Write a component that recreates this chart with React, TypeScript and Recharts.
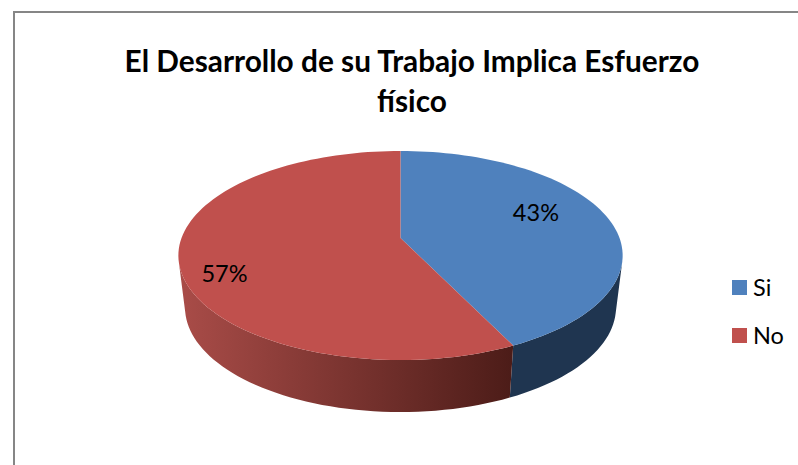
import React from "react";
import { PieChart, Pie, Cell, Legend } from "recharts";

const categories = ["Si", "No"];
const shares = [42.8, 57.2];
const topColors = ["#4f81bd", "#c0504d"];
const wallColors = ["#1f3550", "url(#redWall)"];
const titleLines = ["El Desarrollo de su Trabajo Implica Esfuerzo", "físico"];

const data = categories.map((name, i) => ({ name, value: shares[i] }));

// perspective of the tilted disc
const RX = 219;
const RY = 101.6;
const TILT = -0.1675;
const DEPTH = 52;
const BASE_SHRINK = 0.97;

const FONT = "Lato, 'Open Sans', sans-serif";

// where each % label sits: fraction of the radius, then a small nudge
const labelFraction = [0.65, 0.8];
const labelNudge = [-12, 16];

// recharts angle (deg, counter-clockwise from 3 o'clock) -> point on the disc
const project = (angle: number, frac = 1) => {
  const a = (angle * Math.PI) / 180;
  const u = Math.cos(a) * frac;
  const v = -Math.sin(a) * frac;
  const w = 1 + TILT * v;
  return { x: (RX * u) / w, y: (RY * v) / w };
};

const arcPoints = (start: number, end: number) => {
  const steps = Math.max(2, Math.ceil(Math.abs(end - start) / 2));
  const pts = [];
  for (let i = 0; i <= steps; i++) {
    pts.push(project(start + ((end - start) * i) / steps));
  }
  return pts;
};

const TopSlice = (props: any) => {
  const { cx, cy, startAngle, endAngle, fill } = props;
  const pts = arcPoints(startAngle, endAngle);
  const d =
    `M${cx},${cy} ` +
    pts.map((p) => `L${cx + p.x},${cy + p.y}`).join(" ") +
    " Z";
  return <path d={d} fill={fill} stroke="none" />;
};

// side wall: one quad per arc step, front-facing ones only, all in one path
const WallSlice = (props: any) => {
  const { cx, cy, startAngle, endAngle, fill } = props;
  const pts = arcPoints(startAngle, endAngle);
  let d = "";
  pts.slice(1).forEach((p, i) => {
    const q = pts[i];
    const corners = [
      [cx + q.x, cy + q.y],
      [cx + p.x, cy + p.y],
      [cx + p.x * BASE_SHRINK, cy + p.y + DEPTH],
      [cx + q.x * BASE_SHRINK, cy + q.y + DEPTH],
    ];
    let area = 0;
    corners.forEach((c, j) => {
      const n = corners[(j + 1) % 4];
      area += c[0] * n[1] - n[0] * c[1];
    });
    if (area < 0) {
      d += `M${corners.map((c) => c.join(",")).join(" L")} Z `;
    }
  });
  return <path d={d} fill={fill} stroke="none" />;
};

const renderLabel = (props: any) => {
  const { cx, cy, midAngle, value, index } = props;
  const p = project(midAngle, labelFraction[index]);
  return (
    <text
      x={cx + p.x}
      y={cy + p.y + labelNudge[index]}
      textAnchor="middle"
      dominantBaseline="central"
      fontFamily={FONT}
      fontSize={23.5}
      fill="#000"
    >
      {Math.round(value)}%
    </text>
  );
};

const renderLegend = () => (
  <div style={{ fontFamily: FONT, fontSize: 23.5, color: "#000" }}>
    {categories.map((name, i) => (
      <div key={name} style={{ display: "flex", alignItems: "center", height: 48 }}>
        <span style={{ width: 15, height: 15, background: topColors[i], marginRight: 6 }} />
        {name}
      </div>
    ))}
  </div>
);

export default function App() {
  return (
    <div style={{ position: "absolute", left: 0, top: 0, width: 798, height: 465, background: "#fff", overflow: "hidden" }}>
      <div
        style={{
          position: "absolute",
          left: 13,
          top: 11,
          width: 800,
          height: 470,
          border: "2px solid #868686",
        }}
      />
      <div
        style={{
          position: "absolute",
          left: 0,
          width: 824,
          top: 41,
          textAlign: "center",
          fontFamily: FONT,
          fontWeight: 700,
          fontSize: 29.8,
          lineHeight: "40px",
          color: "#000",
        }}
      >
        {titleLines.map((t) => (
          <div key={t}>{t}</div>
        ))}
      </div>
      <div style={{ position: "absolute", left: 0, top: 0 }}>
        <PieChart width={798} height={465} margin={{ top: 0, right: 0, bottom: 0, left: 0 }}>
          <defs>
            <linearGradient id="redWall" gradientUnits="userSpaceOnUse" x1="180" y1="0" x2="513" y2="0">
              <stop offset="0" stopColor="#a94c48" />
              <stop offset="1" stopColor="#4c1c18" />
            </linearGradient>
          </defs>
          <Pie
            data={data}
            dataKey="value"
            cx={400.5}
            cy={238}
            outerRadius={RY}
            startAngle={90}
            endAngle={-270}
            shape={WallSlice}
            legendType="none"
            stroke="none"
            isAnimationActive={false}
          >
            {data.map((d, i) => (
              <Cell key={d.name} fill={wallColors[i]} />
            ))}
          </Pie>
          <Pie
            data={data}
            dataKey="value"
            cx={400.5}
            cy={238}
            outerRadius={RY}
            startAngle={90}
            endAngle={-270}
            shape={TopSlice}
            label={renderLabel}
            labelLine={false}
            stroke="none"
            isAnimationActive={false}
          >
            {data.map((d, i) => (
              <Cell key={d.name} fill={topColors[i]} />
            ))}
          </Pie>
          <Legend
            content={renderLegend}
            layout="vertical"
            wrapperStyle={{ position: "absolute", left: 732, top: 263, width: 66 }}
          />
        </PieChart>
      </div>
    </div>
  );
}
